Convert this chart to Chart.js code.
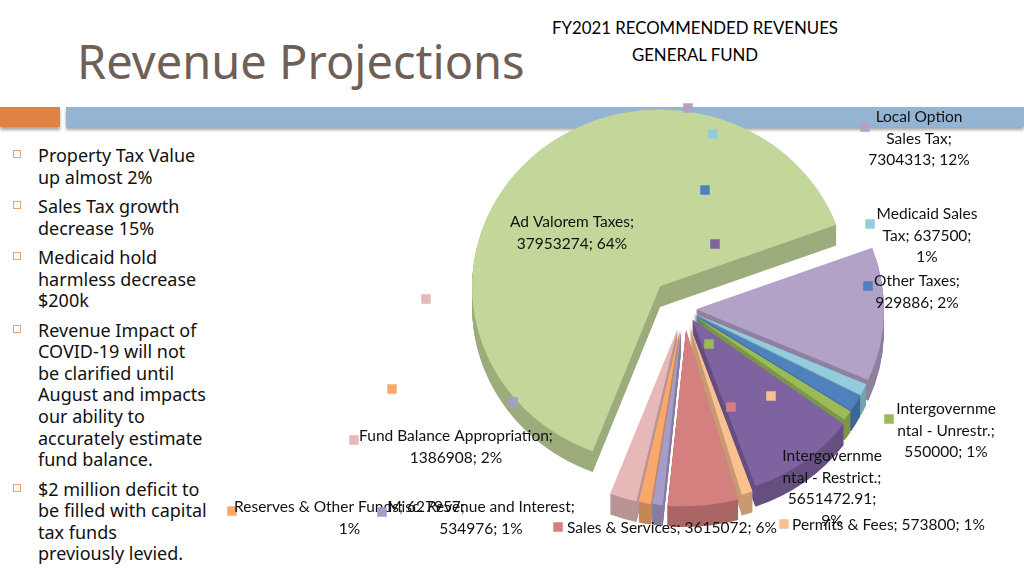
<!DOCTYPE html>
<html lang="en">
  <head>
    <meta charset="utf-8" />
    <title>Revenue Projections</title>
    <script src="https://cdn.jsdelivr.net/npm/chart.js"></script>
    <style>
      body { margin: 0; background: #fff; }
      .slide { position: relative; width: 1024px; height: 575px; overflow: hidden; font-family: 'Noto Sans', sans-serif; }
      .heading { position: absolute; left: 77px; top: 38px; font-size: 47px; line-height: 1; color: #6f5f57; white-space: nowrap; }
      .bar { position: absolute; top: 107px; height: 20px; box-shadow: 0 3px 3px rgba(0, 0, 0, 0.35); }
      .bar.orange { left: 0; width: 60px; background: #df8244; }
      .bar.blue { left: 66px; width: 958px; background: #93b5d3; }
      ul.points { position: absolute; left: 0; top: 145px; margin: 0; padding: 0; list-style: none; }
      ul.points li { position: relative; padding-left: 38px; font-size: 18px; line-height: 21.6px; margin-bottom: 7.8px; color: #111; white-space: nowrap; }
      ul.points li::before { content: ''; position: absolute; left: 13px; top: 5px; width: 6px; height: 6px; border: 1px solid #e0a47a; }
      .chart-title { position: absolute; left: 545px; top: 13.5px; width: 300px; text-align: center; font-family: Lato, sans-serif; font-size: 16.8px; line-height: 27px; color: #000; }
      canvas { position: absolute; left: 0; top: 0; }
    </style>
  </head>

  <body>
    <div class="slide">
      <div class="heading">Revenue Projections</div>
      <div class="bar orange"></div>
      <div class="bar blue"></div>
      <ul class="points">
        <li>Property Tax Value<br />up almost 2%</li>
        <li>Sales Tax growth<br />decrease 15%</li>
        <li>Medicaid hold<br />harmless decrease<br />$200k</li>
        <li>Revenue Impact of<br />COVID-19 will not<br />be clarified until<br />August and impacts<br />our ability to<br />accurately estimate<br />fund balance.</li>
        <li>$2 million deficit to<br />be filled with capital<br />tax funds<br />previously levied.</li>
      </ul>
      <div class="chart-title">FY2021 RECOMMENDED REVENUES<br />GENERAL FUND</div>
      <canvas id="revChart" width="1024" height="575"></canvas>
    </div>

    <script>
      // data
      const categories = [
        'Ad Valorem Taxes', 'Local Option Sales Tax', 'Medicaid Sales Tax', 'Other Taxes',
        'Intergovernmental - Unrestr.', 'Intergovernmental - Restrict.', 'Permits & Fees',
        'Sales & Services', 'Misc. Revenue and Interest', 'Reserves & Other Funds',
        'Fund Balance Appropriation'
      ];
      const revenues = [37953274, 7304313, 637500, 929886, 550000, 5651472.91, 573800, 3615072, 534976, 627957, 1386908];
      const total = revenues.reduce((s, v) => s + v, 0);
      const percents = revenues.map(v => Math.round(v / total * 100));

      // style
      const sliceColors = [
        '#c4d79b', '#b3a2c7', '#93cddd', '#4f81bd', '#9bbb59', '#7f63a1',
        '#fac090', '#d4807e', '#a69cc9', '#f9a86b', '#e6b9b8'
      ];
      const explode = [34, 12, 11, 11, 11, 14, 18, 22, 22, 22, 22];
      const depth = 22;
      const tilt = 0.94;

      function shade(hex, f) {
        const n = parseInt(hex.slice(1), 16);
        const r = Math.round(((n >> 16) & 255) * f);
        const g = Math.round(((n >> 8) & 255) * f);
        const b = Math.round((n & 255) * f);
        return `rgb(${r}, ${g}, ${b})`;
      }

      // label text, wrapped the way the original chart wraps it
      const labelLayout = [
        { lines: ['Ad Valorem Taxes;', `${revenues[0]}; ${percents[0]}%`], x: 572, y: 222 },
        { lines: ['Local Option', 'Sales Tax;', `${revenues[1]}; ${percents[1]}%`], x: 919, y: 117, key: [865, 127] },
        { lines: ['Medicaid Sales', `Tax; ${revenues[2]};`, `${percents[2]}%`], x: 927, y: 214, key: [870, 224] },
        { lines: ['Other Taxes;', `${revenues[3]}; ${percents[3]}%`], x: 917, y: 281, key: [868, 286] },
        { lines: ['Intergovernme', 'ntal - Unrestr.;', `${revenues[4]}; ${percents[4]}%`], x: 946, y: 409, key: [889, 419] },
        { lines: ['Intergovernme', 'ntal - Restrict.;', `${revenues[5]};`, `${percents[5]}%`], x: 832, y: 456 },
        { lines: [`Permits & Fees; ${revenues[6]}; ${percents[6]}%`], x: 792, y: 525, align: 'left', key: [784, 524] },
        { lines: [`Sales & Services; ${revenues[7]}; ${percents[7]}%`], x: 567, y: 528, align: 'left', key: [558, 527] },
        { lines: [`Reserves & Other Funds; ${revenues[9]};`, `${percents[9]}%`], x: 349.5, y: 507, key: [232, 511], idx: 9 },
        { lines: ['Misc. Revenue and Interest;', `${revenues[8]}; ${percents[8]}%`], x: 481, y: 507, key: [382, 512], idx: 8 },
        { lines: ['Fund Balance Appropriation;', `${revenues[10]}; ${percents[10]}%`], x: 456, y: 436, key: [354, 440] }
      ];
      // legend keys that the original left floating over the pie
      const strayKeys = [
        [1, 688, 108], [2, 713, 134], [3, 705, 190], [5, 715, 244], [4, 709, 344],
        [6, 771, 396], [7, 731, 407], [8, 513, 402], [9, 392, 389], [10, 426, 299]
      ];

      const pie3d = {
        id: 'pie3d',
        afterDatasetsUpdate(chart) {
          chart.getDatasetMeta(0).data.forEach((arc, i) => {
            const mid = (arc.startAngle + arc.endAngle) / 2;
            arc.x += Math.cos(mid) * explode[i];
            arc.y += Math.sin(mid) * explode[i];
          });
        },
        beforeDatasetsDraw(chart) {
          const ctx = chart.ctx;
          const area = chart.chartArea;
          const cy = (area.top + area.bottom) / 2;
          ctx.save();
          ctx.translate(0, cy);
          ctx.scale(1, tilt);
          ctx.translate(0, -cy);

          const arcs = chart.getDatasetMeta(0).data.map((arc, i) => {
            const mid = (arc.startAngle + arc.endAngle) / 2;
            return { arc, i, key: arc.y + Math.sin(mid) * arc.outerRadius * 0.7 };
          }).sort((a, b) => a.key - b.key);

          arcs.forEach(({ arc, i }) => {
            ctx.fillStyle = shade(sliceColors[i], 0.8);
            for (let t = depth; t >= 1; t--) {
              ctx.beginPath();
              ctx.moveTo(arc.x, arc.y + t);
              ctx.arc(arc.x, arc.y + t, arc.outerRadius, arc.startAngle, arc.endAngle);
              ctx.closePath();
              ctx.fill();
            }
          });
        },
        afterDatasetsDraw(chart) {
          chart.ctx.restore();
        },
        afterDraw(chart) {
          const ctx = chart.ctx;
          const k = 9.5;
          strayKeys.forEach(([i, x, y]) => {
            ctx.fillStyle = sliceColors[i];
            ctx.fillRect(x - k / 2, y - k / 2, k, k);
          });

          ctx.font = '15.5px Lato';
          ctx.textBaseline = 'middle';
          labelLayout.forEach((lab, n) => {
            const idx = lab.idx !== undefined ? lab.idx : n;
            if (lab.key) {
              ctx.fillStyle = sliceColors[idx];
              ctx.fillRect(lab.key[0] - k / 2, lab.key[1] - k / 2, k, k);
            }
            ctx.fillStyle = '#111';
            ctx.textAlign = lab.align || 'center';
            lab.lines.forEach((line, j) => {
              ctx.fillText(line, lab.x, lab.y + j * 21.5);
            });
          });
        }
      };

      new Chart(document.getElementById('revChart'), {
        type: 'pie',
        data: {
          labels: categories,
          datasets: [{
            data: revenues,
            backgroundColor: sliceColors,
            borderWidth: 0,
            clip: false
          }]
        },
        options: {
          responsive: false,
          animation: false,
          rotation: 201,
          radius: 188,
          layout: { padding: { left: 484, right: 140, top: 109, bottom: 66 } },
          plugins: {
            legend: { display: false },
            tooltip: { enabled: false }
          }
        },
        plugins: [pie3d]
      });
    </script>
  </body>
</html>
